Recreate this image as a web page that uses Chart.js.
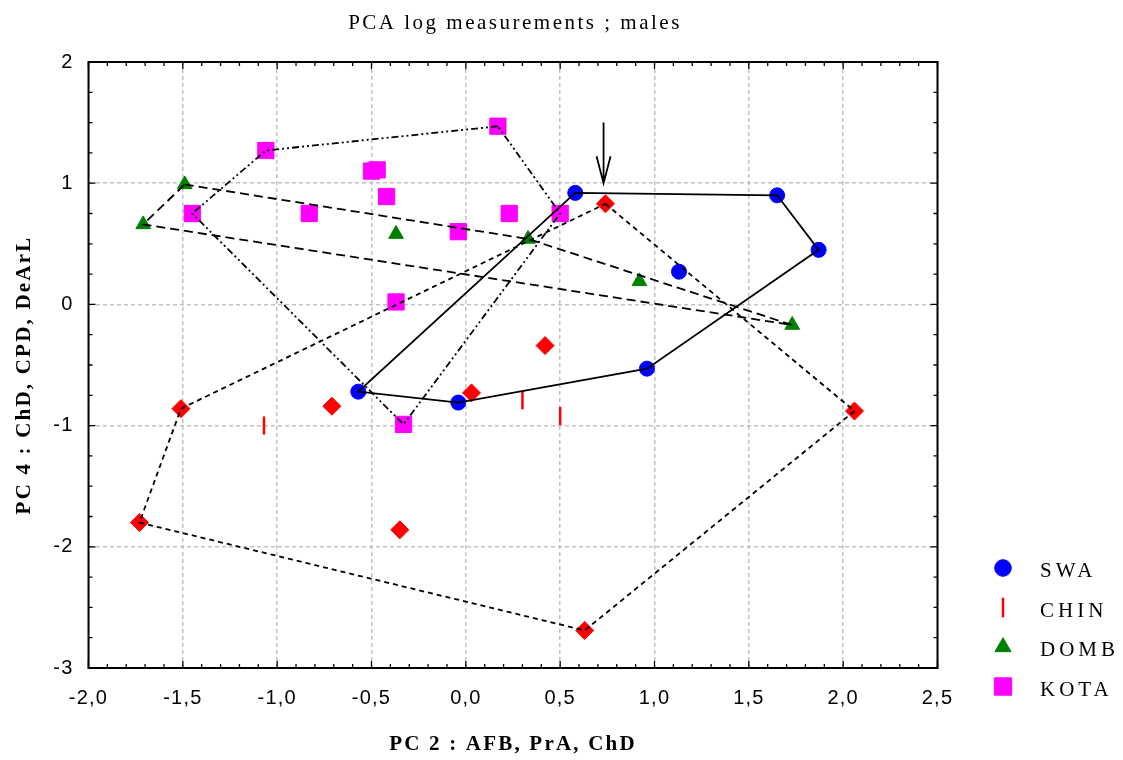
<!DOCTYPE html>
<html>
<head>
<meta charset="utf-8">
<title>PCA log measurements ; males</title>
<script src="https://cdn.jsdelivr.net/npm/chart.js@4.4.1/dist/chart.umd.min.js"></script>
<style>
  html, body { margin: 0; padding: 0; background: #fff; }
  canvas { display: block; }
</style>
</head>
<body>
<canvas id="pca" width="1123" height="760"></canvas>
<script>
// Values (PC 2 on x, PC 4 on y)
const xTicks = [-2.0, -1.5, -1.0, -0.5, 0.0, 0.5, 1.0, 1.5, 2.0, 2.5];
const yTicks = [-3, -2, -1, 0, 1, 2];

const swaX = [0.58, 1.65, 1.87, 1.13, 0.96, -0.04, -0.57];
const swaY = [0.92, 0.90, 0.45, 0.27, -0.53, -0.81, -0.72];
const swaHull = [0, 1, 2, 4, 5, 6];

const chinX = [-1.07, 0.30, 0.50];
const chinY = [-1.00, -0.79, -0.92];

// red diamonds (not in the legend) and their dotted hull
const diaX = [0.74, 2.06, 0.63, -1.73, -1.51, 0.42, 0.03, -0.35, -0.71];
const diaY = [0.83, -0.88, -2.69, -1.80, -0.86, -0.34, -0.73, -1.86, -0.84];
const diaHull = [0, 1, 2, 3, 4];

const dombX = [-1.49, 0.33, 1.73, -1.71, -0.37, 0.92];
const dombY = [0.99, 0.54, -0.17, 0.66, 0.58, 0.19];
const dombHull = [0, 1, 2, 3];

const kotaX = [0.17, -1.06, -1.45, -0.33, 0.50, -0.83, -0.50, -0.47, -0.42, -0.04, 0.23, -0.37];
const kotaY = [1.47, 1.27, 0.75, -0.99, 0.75, 0.75, 1.10, 1.11, 0.89, 0.60, 0.75, 0.02];
const kotaHull = [0, 1, 2, 3, 4];

// arrow above the top CHIN point
const arrowX = 0.73;
const arrowY = [1.5, 1.0];

const legendRows = ['SWA', 'CHIN', 'DOMB', 'KOTA'];

const pts = (xs, ys) => xs.map((x, i) => ({ x, y: ys[i] }));
const ring = (xs, ys, idx) => idx.concat(idx[0]).map(i => ({ x: xs[i], y: ys[i] }));

const hull = (data, dash) => ({
  label: 'hull', data, showLine: true, fill: false, tension: 0,
  borderColor: '#000', borderWidth: 1.8, borderDash: dash,
  pointRadius: 0, pointHoverRadius: 0
});

const marks = (label, data, color, style, radius) => ({
  label, data,
  pointStyle: style, pointRadius: radius, pointHoverRadius: radius,
  pointBackgroundColor: color, pointBorderColor: color, pointBorderWidth: 1
});

// hull lines go first so they are drawn over the markers, as in the original
const datasets = [
  hull(ring(swaX, swaY, swaHull), []),
  hull(ring(diaX, diaY, diaHull), [5, 4]),
  hull(ring(dombX, dombY, dombHull), [9, 5]),
  hull(ring(kotaX, kotaY, kotaHull), [7, 3, 2, 3, 2, 3]),
  marks('SWA', pts(swaX, swaY), '#0000ff', 'circle', 7.5),
  Object.assign(marks('CHIN', pts(chinX, chinY), '#ff0000', 'line', 9), { pointRotation: 90, pointBorderWidth: 2.5 }),
  marks('CHIN hull points', pts(diaX, diaY), '#ff0000', 'rectRot', 9),
  marks('DOMB', pts(dombX, dombY), '#008000', 'triangle', 8.5),
  marks('KOTA', pts(kotaX, kotaY), '#ff00ff', 'rect', 11.5)
];

function spaced(c, font, spacing) {
  c.font = font;
  c.letterSpacing = spacing + 'px';
}

const decor = {
  id: 'decor',
  beforeDraw(chart) {
    const c = chart.ctx;
    c.save();
    c.fillStyle = '#fff';
    c.fillRect(0, 0, chart.width, chart.height);
    c.restore();
    c.letterSpacing = '1.2px'; // tick labels are spaced out in the original
  },
  afterDraw(chart) {
    const c = chart.ctx, a = chart.chartArea;
    const x = chart.scales.x, y = chart.scales.y;
    c.save();
    c.letterSpacing = '0px';

    // frame
    c.strokeStyle = '#000';
    c.lineWidth = 2;
    c.strokeRect(a.left, a.top, a.right - a.left, a.bottom - a.top);

    // inward ticks on all four sides
    c.lineWidth = 1.3;
    c.beginPath();
    for (let k = -20; k <= 25; k++) {
      const px = x.getPixelForValue(k / 10);
      const len = k % 5 === 0 ? 7 : 4;
      c.moveTo(px, a.bottom); c.lineTo(px, a.bottom - len);
      c.moveTo(px, a.top); c.lineTo(px, a.top + len);
    }
    for (let k = -12; k <= 8; k++) {
      const py = y.getPixelForValue(k / 4);
      const len = k % 4 === 0 ? 7 : 4;
      c.moveTo(a.left, py); c.lineTo(a.left + len, py);
      c.moveTo(a.right, py); c.lineTo(a.right - len, py);
    }
    c.stroke();

    // arrow
    const ax = x.getPixelForValue(arrowX);
    const ay0 = y.getPixelForValue(arrowY[0]);
    const ay1 = y.getPixelForValue(arrowY[1]);
    c.lineWidth = 1.8;
    c.beginPath();
    c.moveTo(ax, ay0); c.lineTo(ax, ay1);
    c.moveTo(ax - 7, ay1 - 27); c.lineTo(ax, ay1); c.lineTo(ax + 7, ay1 - 27);
    c.stroke();

    // titles
    c.fillStyle = '#000';
    c.textAlign = 'center';
    c.textBaseline = 'alphabetic';
    spaced(c, '21px "Liberation Serif", "Times New Roman", serif', 2.5);
    c.fillText('PCA log measurements ; males', 515, 29);

    spaced(c, 'bold 21px "Liberation Serif", "Times New Roman", serif', 2.2);
    c.fillText('PC 2 : AFB, PrA, ChD', 513, 750);
    c.save();
    c.translate(30, 375);
    c.rotate(-Math.PI / 2);
    c.fillText('PC 4 : ChD, CPD, DeArL', 0, 0);
    c.restore();

    // legend
    c.textAlign = 'left';
    legendRows.forEach((name, i) => {
      const ds = chart.data.datasets.find(d => d.label === name);
      const cy = 568 + i * 39.5;
      c.save();
      c.fillStyle = ds.pointBackgroundColor;
      c.strokeStyle = ds.pointBorderColor;
      c.lineWidth = ds.pointBorderWidth;
      Chart.helpers.drawPoint(c, {
        pointStyle: ds.pointStyle,
        rotation: ds.pointRotation || 0,
        radius: ds.pointRadius + 0.8,
        borderWidth: ds.pointBorderWidth
      }, 1003, cy);
      c.restore();
      spaced(c, '21px "Liberation Serif", "Times New Roman", serif', 4);
      c.fillStyle = '#000';
      c.fillText(name, 1040, cy + 9);
    });
    c.restore();
  }
};

new Chart(document.getElementById('pca'), {
  type: 'scatter',
  data: { datasets },
  options: {
    responsive: false,
    animation: false,
    devicePixelRatio: 1,
    events: [],
    layout: { padding: { top: 62, right: 185.5, left: 0, bottom: 0 } },
    plugins: { legend: { display: false }, tooltip: { enabled: false }, title: { display: false } },
    scales: {
      x: {
        type: 'linear', min: -2, max: 2.5,
        afterBuildTicks: s => { s.ticks = xTicks.map(v => ({ value: v })); },
        afterFit: s => { s.height = 92; },
        ticks: {
          color: '#000', padding: 18, maxRotation: 0, autoSkip: false,
          font: { family: '"Liberation Sans", Arial, sans-serif', size: 20 },
          callback: v => v.toFixed(1).replace('.', ',')
        },
        grid: { color: '#c2c2c2', lineWidth: 1.5, drawTicks: false },
        border: { display: false, dash: [4, 3] }
      },
      y: {
        type: 'linear', min: -3, max: 2,
        afterBuildTicks: s => { s.ticks = yTicks.map(v => ({ value: v })); },
        afterFit: s => { s.width = 88.5; },
        ticks: {
          color: '#000', padding: 15, autoSkip: false,
          font: { family: '"Liberation Sans", Arial, sans-serif', size: 20 },
          callback: v => String(v)
        },
        grid: { color: '#c2c2c2', lineWidth: 1.5, drawTicks: false },
        border: { display: false, dash: [4, 3] }
      }
    }
  },
  plugins: [decor]
});
</script>
</body>
</html>
